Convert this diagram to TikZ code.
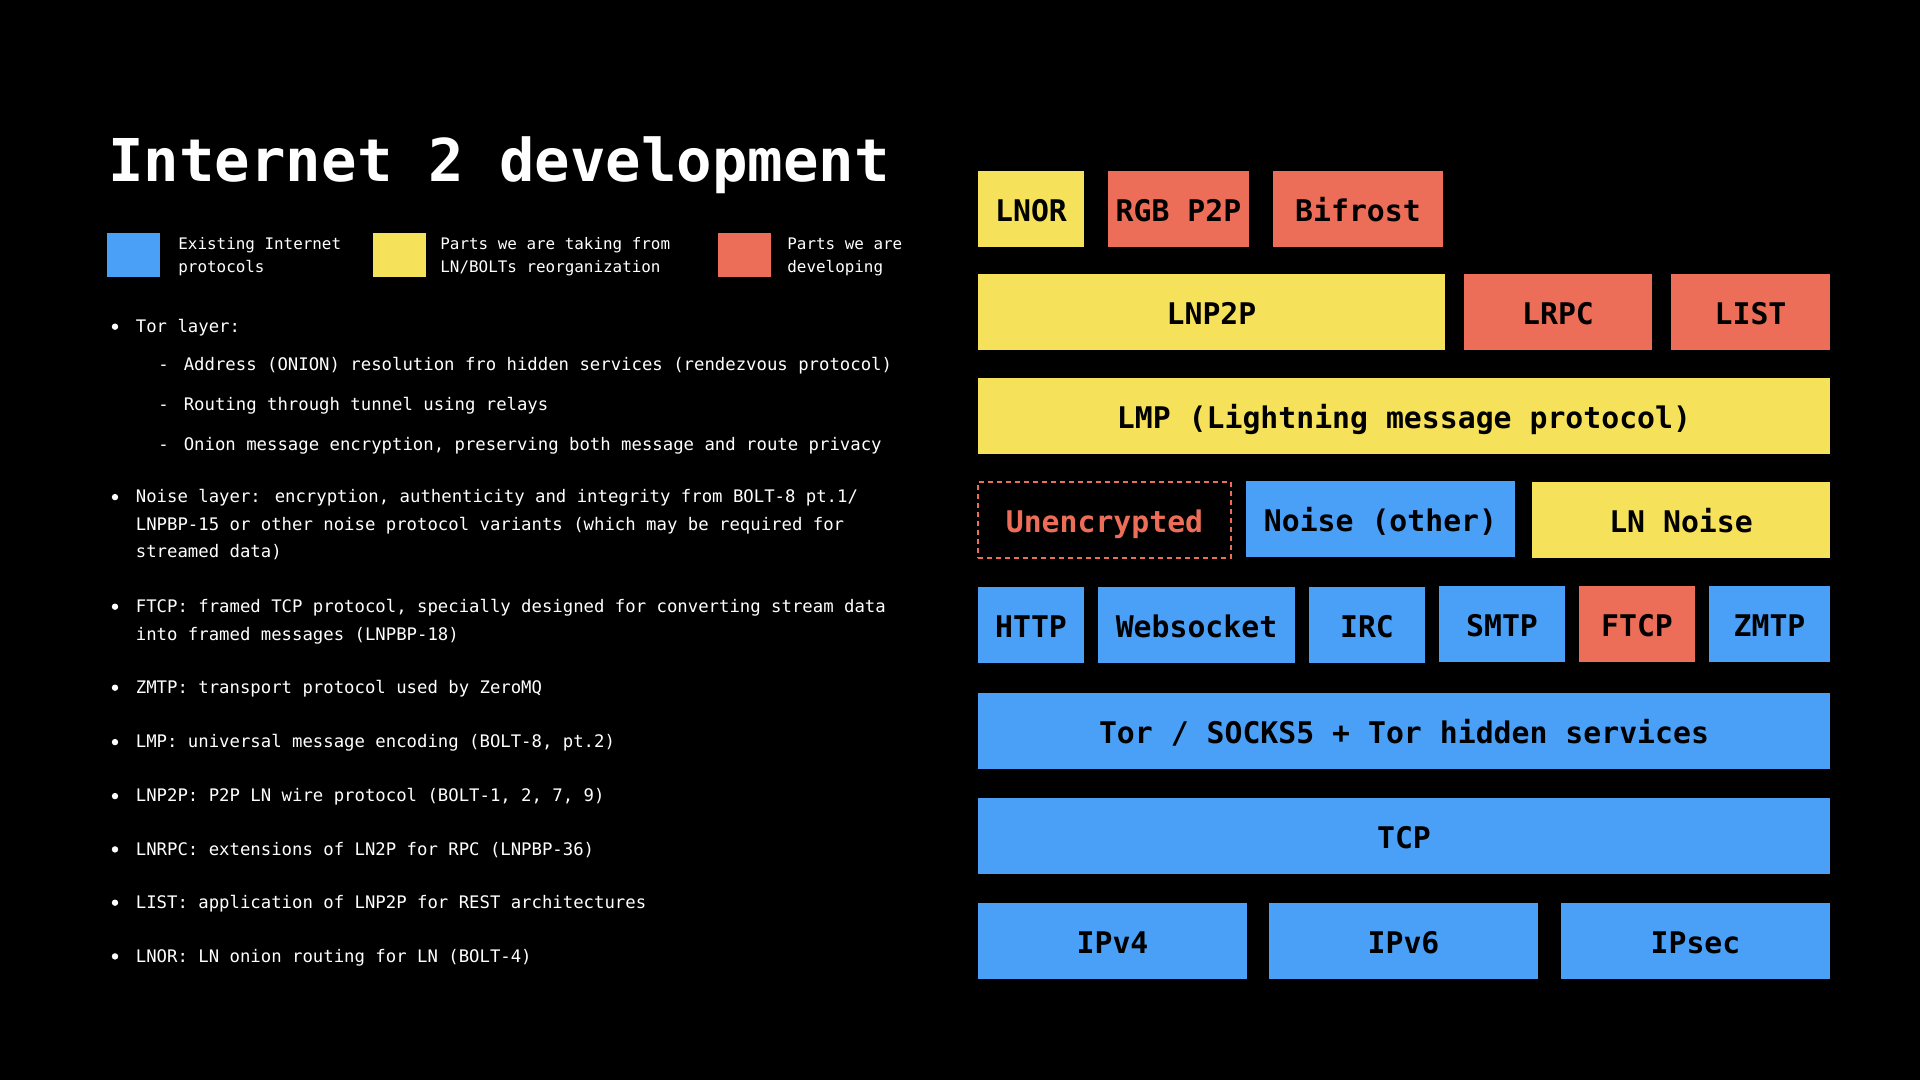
\documentclass[tikz,border=0pt]{standalone}
\usepackage{fontspec}
\setmainfont{DejaVu Sans Mono}
\definecolor{netblue}{HTML}{4AA0F6}
\definecolor{lnyellow}{HTML}{F6E15A}
\definecolor{devred}{HTML}{EC6E58}
\begin{document}
\begin{tikzpicture}[x=0.5pt,y=-0.5pt,
  layer/.style={rectangle, inner sep=0pt, outer sep=0pt, minimum height=38pt,
    text height=12.9pt, text depth=0pt,
    font=\fontsize{14.9}{18}\selectfont\bfseries, text=black},
  existing/.style={layer, fill=netblue},
  taken/.style={layer, fill=lnyellow},
  ours/.style={layer, fill=devred},
  note/.style={anchor=base west, inner sep=0pt, text=white,
    font=\fontsize{8.65}{10}\selectfont},
  legendtxt/.style={anchor=base west, inner sep=0pt, text=white,
    font=\fontsize{7.95}{10}\selectfont},
  swatch/.style={rectangle, inner sep=0pt, minimum width=26.5pt, minimum height=22pt},
  dot/.style={circle, fill=white, inner sep=0pt, minimum size=3.2pt}]

% background
\fill[black] (0,0) rectangle (1920,1080);
\useasboundingbox (0,0) rectangle (1920,1080);

% title
\node[anchor=base west, inner sep=0pt, text=white,
  font=\fontsize{29.5}{35}\selectfont\bfseries] (title) at (108,181.7) {Internet 2 development};

% legend
\node[swatch, fill=netblue] (swblue) at (133.5,255) {};
\node[swatch, fill=lnyellow] (swyellow) at (399.5,255) {};
\node[swatch, fill=devred] (swred) at (744,255) {};
\node[legendtxt] (lg1a) at (178,249.3) {Existing Internet};
\node[legendtxt] (lg1b) at (178,272.7) {protocols};
\node[legendtxt] (lg2a) at (440,249.3) {Parts we are taking from};
\node[legendtxt] (lg2b) at (440,272.7) {LN/BOLTs reorganization};
\node[legendtxt] (lg3a) at (787,249.3) {Parts we are};
\node[legendtxt] (lg3b) at (787,272.7) {developing};

% notes
\foreach \n/\yy in {b1/332.3,b2/502.7,b3/612.3,b4/693.3,b5/747.7,b6/801.7,b7/855,b8/908.3,b9/962}
  \node[dot] (\n) at (115,\yy-5.6) {};
\node[note] (t1) at (135.5,332.3) {Tor layer:};
\node[note] (t1a) at (158,371) {-\hspace{7.5pt}Address (ONION) resolution fro hidden services (rendezvous protocol)};
\node[note] (t1b) at (158,410) {-\hspace{7.5pt}Routing through tunnel using relays};
\node[note] (t1c) at (158,450) {-\hspace{7.5pt}Onion message encryption, preserving both message and route privacy};
\node[note] (t2a) at (135.5,502.7) {Noise layer: encryption, authenticity and integrity from BOLT-8 pt.1/};
\node[note] (t2b) at (135.5,530.7) {LNPBP-15 or other noise protocol variants (which may be required for};
\node[note] (t2c) at (135.5,557.7) {streamed data)};
\node[note] (t3a) at (135.5,612.3) {FTCP: framed TCP protocol, specially designed for converting stream data};
\node[note] (t3b) at (135.5,640) {into framed messages (LNPBP-18)};
\node[note] (t4) at (135.5,693.3) {ZMTP: transport protocol used by ZeroMQ};
\node[note] (t5) at (135.5,747.7) {LMP: universal message encoding (BOLT-8, pt.2)};
\node[note] (t6) at (135.5,801.7) {LNP2P: P2P LN wire protocol (BOLT-1, 2, 7, 9)};
\node[note] (t7) at (135.5,855) {LNRPC: extensions of LN2P for RPC (LNPBP-36)};
\node[note] (t8) at (135.5,908.3) {LIST: application of LNP2P for REST architectures};
\node[note] (t9) at (135.5,962) {LNOR: LN onion routing for LN (BOLT-4)};

% protocol stack, top row down
\node[taken, minimum width=53pt] (lnor) at (1031,209) {LNOR};
\node[ours, minimum width=70.5pt] (rgb) at (1178.5,209) {RGB P2P};
\node[ours, minimum width=85pt] (bifrost) at (1358,209) {Bifrost};

\node[taken, minimum width=233.5pt] (lnp2p) at (1211.5,312) {LNP2P};
\node[ours, minimum width=94pt] (lrpc) at (1558,312) {LRPC};
\node[ours, minimum width=79.5pt] (list) at (1750.5,312) {LIST};

\node[taken, minimum width=426pt] (lmp) at (1404,416) {LMP (Lightning message protocol)};

\node[layer, draw=devred, line width=1pt, dash pattern=on 2.5pt off 2pt, text=devred,
  minimum width=126.5pt] (unenc) at (1104.5,519.5) {Unencrypted};
\node[existing, minimum width=134.5pt] (noise) at (1380.5,519) {Noise (other)};
\node[taken, minimum width=149pt] (lnnoise) at (1681,519.5) {LN Noise};

\node[existing, minimum width=53pt] (http) at (1031,624.5) {HTTP};
\node[existing, minimum width=98.5pt] (ws) at (1196.5,624.5) {Websocket};
\node[existing, minimum width=58pt] (irc) at (1367,624.5) {IRC};
\node[existing, minimum width=63pt] (smtp) at (1502,624) {SMTP};
\node[ours, minimum width=58pt] (ftcp) at (1637,624) {FTCP};
\node[existing, minimum width=60.5pt] (zmtp) at (1769.5,624) {ZMTP};

\node[existing, minimum width=426pt] (tor) at (1404,731) {Tor / SOCKS5 + Tor hidden services};
\node[existing, minimum width=426pt] (tcp) at (1404,836) {TCP};

\node[existing, minimum width=134.5pt] (ipv4) at (1112.5,941) {IPv4};
\node[existing, minimum width=134.5pt] (ipv6) at (1403.5,941) {IPv6};
\node[existing, minimum width=134.5pt] (ipsec) at (1695.5,941) {IPsec};
\end{tikzpicture}
\end{document}
